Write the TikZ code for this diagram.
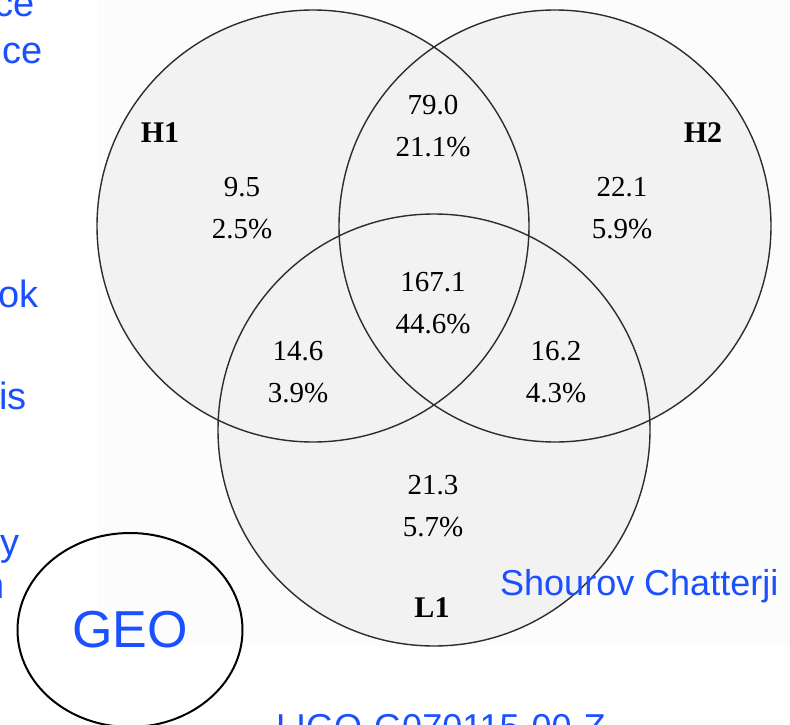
\documentclass[tikz,border=0pt]{standalone}
\usepackage{fontspec}
\setmainfont{Liberation Serif}
\newfontfamily\arialf{Liberation Sans}
\usetikzlibrary{shapes.geometric}
\definecolor{slideblue}{RGB}{26,80,255}
\definecolor{vennfill}{RGB}{242,242,242}
\definecolor{vennline}{RGB}{45,45,45}
\definecolor{backfill}{RGB}{252,252,252}
\begin{document}
\begin{tikzpicture}[x=1pt,y=-1pt,
  vennedge/.style={circle, minimum size=432pt, inner sep=0pt, draw=vennline, line width=1.4pt},
  num/.style={font=\fontsize{29}{42}\selectfont, align=center, inner sep=0pt},
  setlab/.style={font=\fontsize{30}{36}\selectfont\bfseries, inner sep=0pt},
  bluetext/.style={font=\arialf\fontsize{36}{43}\selectfont, text=slideblue, inner sep=0pt},
  sidetext/.style={font=\arialf\fontsize{38}{45}\selectfont, text=slideblue, inner sep=0pt, anchor=base east},
]
\clip (0,0) rectangle (790,725);
\fill[white] (0,0) rectangle (790,725);
\fill[backfill] (97,0) rectangle (790,646);
% circle fills
\fill[vennfill] (313,226) circle[radius=216pt];
\fill[vennfill] (555,226) circle[radius=216pt];
\fill[vennfill] (434,430) circle[radius=216pt];
% circle outlines
\node[vennedge] (h1) at (313,226) {};
\node[vennedge] (h2) at (555,226) {};
\node[vennedge] (l1) at (434,430) {};
% set labels
\node[setlab] (lh1) at (160,133) {H1};
\node[setlab] (lh2) at (703,133) {H2};
\node[setlab] (ll1) at (432,608) {L1};
% region values
\node[num] (r1) at (242,208) {9.5\\2.5\%};
\node[num] (r2) at (433,126) {79.0\\21.1\%};
\node[num] (r3) at (622,208) {22.1\\5.9\%};
\node[num] (r4) at (433,303) {167.1\\44.6\%};
\node[num] (r5) at (298,372) {14.6\\3.9\%};
\node[num] (r6) at (556,372) {16.2\\4.3\%};
\node[num] (r7) at (433,506) {21.3\\5.7\%};
% slide texts
\node[bluetext, anchor=base west] (author) at (500,595) {Shourov Chatterji};
\node[bluetext, anchor=base west] (docid) at (276,739) {LIGO-G070115-00-Z};
\node[ellipse, draw=black, line width=2pt, minimum width=225pt, minimum height=194pt, inner sep=0pt,
      font=\arialf\fontsize{52}{60}\selectfont, text=slideblue] (geo) at (130,630) {GEO};
\node[sidetext] (s1) at (35,17) {ce};
\node[sidetext] (s2) at (43,64) {ce};
\node[sidetext] (s3) at (39,307) {ok};
\node[sidetext] (s4) at (27,409) {is};
\node[sidetext] (s5) at (20,555) {y};
\node[sidetext] (s6) at (5,598) {n};
\end{tikzpicture}
\end{document}
